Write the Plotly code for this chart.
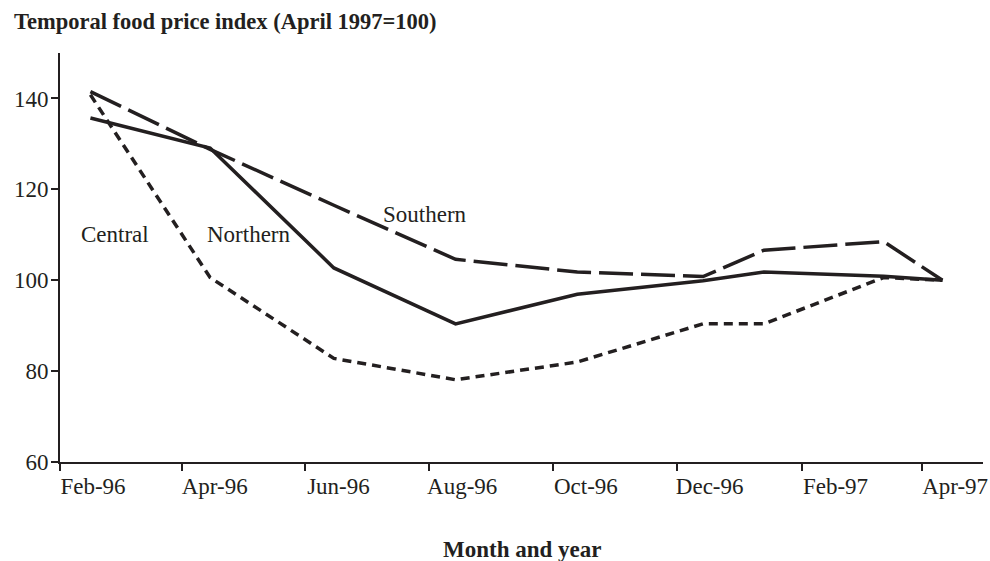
import plotly.graph_objects as go

# Survey dates (x) and index values
dates = ["1996-02-16", "1996-04-15", "1996-06-15", "1996-08-14", "1996-10-13",
         "1996-12-14", "1997-01-13", "1997-03-13", "1997-04-11"]
northern = [135.7, 129.1, 102.7, 90.4, 96.9, 99.9, 101.8, 100.9, 100.0]
southern = [141.5, 128.8, 116.5, 104.6, 101.8, 100.8, 106.6, 108.5, 100.0]
central = [140.8, 100.6, 82.8, 78.1, 82.0, 90.4, 90.4, 100.6, 100.0]

tick_vals = ["1996-02-01", "1996-04-01", "1996-06-01", "1996-08-01",
             "1996-10-01", "1996-12-01", "1997-02-01", "1997-04-01"]
tick_text = ["Feb-96", "Apr-96", "Jun-96", "Aug-96", "Oct-96", "Dec-96", "Feb-97", "Apr-97"]
y_ticks = [60, 80, 100, 120, 140]

INK = "#231f20"
FONT = "Liberation Serif, Times New Roman, serif"
FS = 23

fig = go.Figure()
fig.add_trace(go.Scatter(x=dates, y=central, mode="lines", name="Central",
                         line=dict(color=INK, width=3.5, dash="9px,6px")))
fig.add_trace(go.Scatter(x=dates, y=southern, mode="lines", name="Southern",
                         line=dict(color=INK, width=3.5, dash="34px,8px")))
fig.add_trace(go.Scatter(x=dates, y=northern, mode="lines", name="Northern",
                         line=dict(color=INK, width=3.5)))

labels = [("Central", "1996-02-28", 110.0), ("Northern", "1996-05-04", 110.0),
          ("Southern", "1996-07-30", 114.4)]
for txt, lx, ly in labels:
    fig.add_annotation(x=lx, y=ly, text=txt, showarrow=False,
                       font=dict(family=FONT, size=FS, color=INK))

# chart title and x-axis title as annotations
fig.add_annotation(text="<b>Temporal food price index (April 1997=100)</b>",
                   xref="paper", yref="paper", x=-48 / 923, y=1 + (53 - 21) / 409,
                   xanchor="left", yanchor="middle", showarrow=False,
                   font=dict(family=FONT, size=22.5, color=INK))
fig.add_annotation(text="<b>Month and year</b>",
                   xref="paper", yref="paper", x=0.5, y=-(549 - 462) / 409,
                   xanchor="center", yanchor="middle", showarrow=False,
                   font=dict(family=FONT, size=FS, color=INK))

fig.update_layout(
    width=990, height=561,
    margin=dict(l=60, r=7, t=53, b=99),
    paper_bgcolor="white", plot_bgcolor="white",
    showlegend=False,
    font=dict(family=FONT, size=FS, color=INK),
)
fig.update_xaxes(
    type="date", range=["1996-02-01", "1997-05-01"],
    tickmode="array", tickvals=tick_vals, ticktext=tick_text,
    ticks="outside", ticklen=7, tickwidth=2, tickcolor=INK,
    ticklabelshift=33, ticklabelstandoff=-5, automargin=False,
    showline=True, linecolor=INK, linewidth=2,
    showgrid=False, zeroline=False,
    tickfont=dict(family=FONT, size=FS, color=INK),
)
fig.update_yaxes(
    range=[60, 150], tickmode="array", tickvals=y_ticks,
    ticks="outside", ticklen=7, tickwidth=2, tickcolor=INK,
    ticklabelstandoff=-2, automargin=False,
    showline=True, linecolor=INK, linewidth=2,
    showgrid=False, zeroline=False,
    tickfont=dict(family=FONT, size=FS, color=INK),
)

fig.write_html("out.html", config={"displayModeBar": False},
               post_script="document.body.style.margin='0px';document.body.style.overflow='hidden';")
